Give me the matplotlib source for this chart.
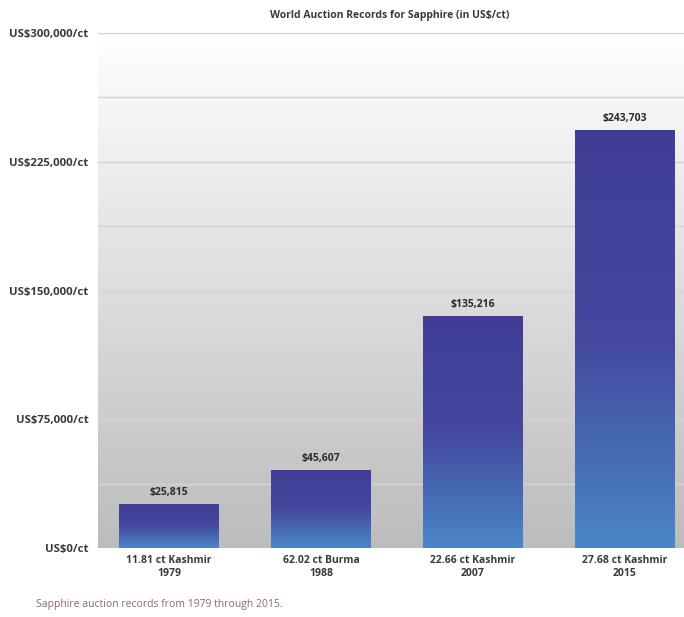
import matplotlib.pyplot as plt
import numpy as np
from matplotlib.colors import LinearSegmentedColormap

plt.rcParams['font.family'] = ['Open Sans', 'DejaVu Sans']

stones = ['11.81 ct Kashmir', '62.02 ct Burma', '22.66 ct Kashmir', '27.68 ct Kashmir']
years = ['1979', '1988', '2007', '2015']
prices = [25815, 45607, 135216, 243703]
ytick_vals = [0, 75000, 150000, 225000, 300000]
ytick_labels = ['US$0/ct', 'US$75,000/ct', 'US$150,000/ct', 'US$225,000/ct', 'US$300,000/ct']

fig = plt.figure(figsize=(6.84, 6.17), dpi=100)
ax = fig.add_axes([0.1433, 0.1118, 0.8567, 0.8347])

x = np.arange(len(prices))
bars = ax.bar(x, prices, 0.658, color='none', zorder=3)

# background gradient: white at top, grey at bottom
bg = LinearSegmentedColormap.from_list('bg', ['#bcbcbc', '#ffffff'])
grad = np.linspace(0, 1, 256).reshape(-1, 1)
ax.imshow(grad, cmap=bg, aspect='auto', extent=[0, 1, 0, 1],
          transform=ax.transAxes, origin='lower', zorder=0)

# bar gradients: light blue at bottom, indigo at top
bar_cmap = LinearSegmentedColormap.from_list('bar', ['#4a87c6', '#44489f', '#413d97'])
for b in bars:
    x0, y0, w, h = b.get_x(), b.get_y(), b.get_width(), b.get_height()
    im = ax.imshow(grad, cmap=bar_cmap, aspect='auto',
                   extent=[x0, x0 + w, y0, y0 + h], origin='lower', zorder=3)
    im.set_clip_path(b)

ax.set_xlim(-0.467, 3.39)
ax.set_ylim(0, 300000)

# gridlines every 37,500
for g in np.arange(37500, 300001, 37500):
    ax.axhline(g, color='#d4d4d4', lw=1.0, zorder=1)

for xi, v in zip(x, prices):
    ax.text(xi, v + 3500, f'${v:,}', ha='center', va='bottom',
            fontsize=7.5, fontweight='bold', color='#2b2b2b', zorder=4)

ax.set_yticks(ytick_vals)
ax.set_yticklabels(ytick_labels)
ax.set_xticks(x)
ax.set_xticklabels([f'{s}\n{y}' for s, y in zip(stones, years)], linespacing=1.3)
ax.tick_params(length=0, labelsize=7.5, labelcolor='#3a3a3a', pad=5)
ax.tick_params(axis='y', labelsize=8.2, pad=7)
for lab in ax.get_xticklabels() + ax.get_yticklabels():
    lab.set_fontweight('bold')
for s in ax.spines.values():
    s.set_visible(False)

fig.text(0.57, 0.975, 'World Auction Records for Sapphire (in US$/ct)', ha='center',
         va='center', fontsize=7.5, fontweight='bold', color='#3a3a3a')
fig.text(0.053, 0.021, 'Sapphire auction records from 1979 through 2015.', ha='left',
         va='center', fontsize=7.5, color='#8a6a6a')

plt.savefig('out.png', dpi=100)
